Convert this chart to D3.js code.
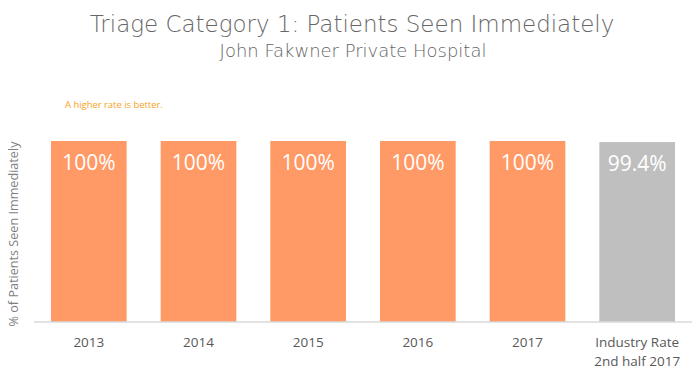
<!DOCTYPE html>
<html>
<head>
<meta charset="utf-8">
<script src="https://cdn.jsdelivr.net/npm/d3@7"></script>
<style>
  html, body { margin: 0; padding: 0; background: #fff; }
  svg { display: block; }
</style>
</head>
<body>
<svg id="chart" width="700" height="378"></svg>
<script>
const categories = ["2013", "2014", "2015", "2016", "2017", "Industry Rate\n2nd half 2017"];
const values = [100, 100, 100, 100, 100, 99.4];
const valueLabels = ["100%", "100%", "100%", "100%", "100%", "99.4%"];
const isIndustry = [false, false, false, false, false, true];
const titleText = "Triage Category 1: Patients Seen Immediately";
const subtitleText = "John Fakwner Private Hospital";
const noteText = "A higher rate is better.";
const yAxisLabel = "% of Patients Seen Immediately";

const svg = d3.select("#chart");
const plot = { left: 34, right: 692, top: 141, bottom: 322 };

const x = d3.scaleBand()
  .domain(categories)
  .range([plot.left, plot.right])
  .paddingInner(0.31)
  .paddingOuter(0.155);

const y = d3.scaleLinear()
  .domain([0, 100])
  .range([plot.bottom, plot.top]);

const titleFont = "'DejaVu Sans', sans-serif";
function fitText(sel, targetW) {
  const w = sel.node().getComputedTextLength();
  const fs = parseFloat(sel.attr("font-size"));
  sel.attr("font-size", fs * targetW / w);
}
const title = svg.append("text")
  .attr("x", 352).attr("y", 32)
  .attr("text-anchor", "middle")
  .attr("font-family", titleFont)
  .attr("font-weight", 200)
  .attr("font-size", 24)
  .attr("fill", "#666666")
  .text(titleText);
fitText(title, 525);

const subtitle = svg.append("text")
  .attr("x", 353).attr("y", 57)
  .attr("text-anchor", "middle")
  .attr("font-family", titleFont)
  .attr("font-weight", 200)
  .attr("font-size", 17)
  .attr("fill", "#666666")
  .text(subtitleText);
fitText(subtitle, 267);

const note = svg.append("text")
  .attr("x", 65).attr("y", 108)
  .attr("font-family", "'Liberation Sans Narrow', 'Open Sans', sans-serif")
  .attr("font-size", 10.5)
  .attr("fill", "#F7A21B")
  .text(noteText);
fitText(note, 98);

svg.append("g").selectAll("rect")
  .data(categories)
  .join("rect")
  .attr("x", d => x(d))
  .attr("width", x.bandwidth())
  .attr("y", (d, i) => y(values[i]))
  .attr("height", (d, i) => y(0) - y(values[i]))
  .attr("fill", (d, i) => isIndustry[i] ? "#BFBFBF" : "#FF9966");

svg.append("g").selectAll("text")
  .data(categories)
  .join("text")
  .attr("x", d => x(d) + x.bandwidth() / 2)
  .attr("y", (d, i) => y(values[i]) + 29)
  .attr("text-anchor", "middle")
  .attr("font-family", "'Open Sans', sans-serif")
  .attr("font-size", 21)
  .attr("fill", "#ffffff")
  .text((d, i) => valueLabels[i]);

const xAxis = d3.axisBottom(x).tickSize(0).tickPadding(0);
const gx = svg.append("g")
  .attr("transform", `translate(0,${plot.bottom})`)
  .call(xAxis);
gx.select(".domain").attr("stroke", "#D9D9D9").attr("stroke-width", 1.5)
  .attr("d", `M${plot.left},0H${plot.right}`);
gx.selectAll(".tick text").remove();
gx.selectAll(".tick").each(function(d) {
  const lines = d.split("\n");
  const t = d3.select(this).append("text")
    .attr("text-anchor", "middle")
    .attr("font-family", "'Open Sans', sans-serif")
    .attr("font-size", 13.5)
    .attr("fill", "#595959");
  lines.forEach((ln, i) => {
    t.append("tspan").attr("x", 0).attr("y", 25 + i * 19).text(ln);
  });
});

const yl = svg.append("text")
  .attr("transform", `translate(18,234) rotate(-90)`)
  .attr("text-anchor", "middle")
  .attr("font-family", "'Open Sans', sans-serif")
  .attr("font-size", 12)
  .attr("fill", "#7f7f7f")
  .text(yAxisLabel);
fitText(yl, 185);
</script>
</body>
</html>
